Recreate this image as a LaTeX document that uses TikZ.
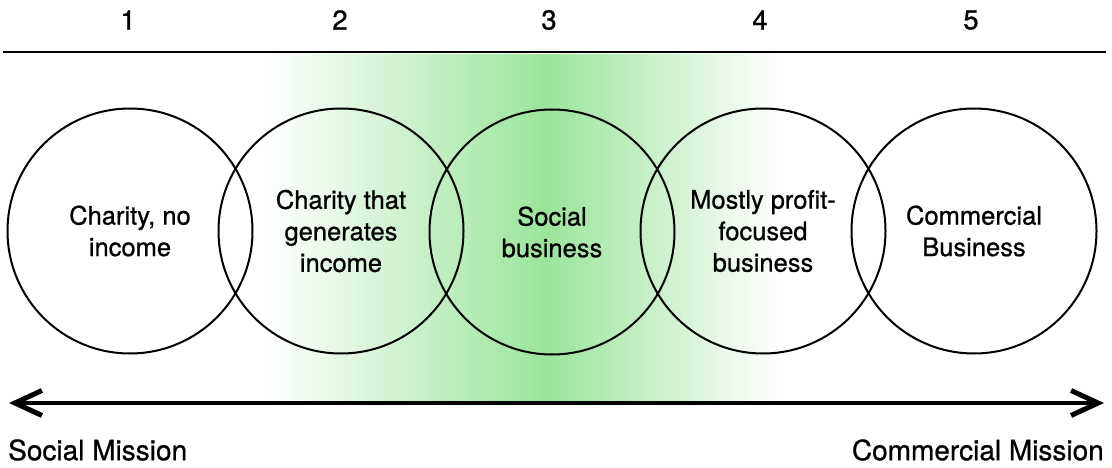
\documentclass[tikz,border=0pt]{standalone}
\usepackage{fontspec}
\setmainfont[FakeBold=0.8]{TeX Gyre Heros}
\usetikzlibrary{arrows.meta}
\definecolor{gcol}{RGB}{155,228,155}
\begin{document}
\begin{tikzpicture}[x=1pt,y=-1pt,
  stage/.style={circle, draw=black, line width=2pt, minimum size=245pt, inner sep=0pt,
    align=center, font=\fontsize{25.5}{31.5}\selectfont},
  num/.style={inner sep=0pt, font=\fontsize{27.5}{30}\selectfont},
  side/.style={inner sep=0pt, font=\fontsize{28}{32}\selectfont},
  barb/.tip={Straight Barb[length=27pt,width=25pt,line width=5pt]}]
\useasboundingbox (0,0) rectangle (1112,468);
% green band
\shade[left color=white, right color=gcol] (266,55) rectangle (546,401);
\shade[left color=gcol, right color=white] (546,55) rectangle (780,401);
% numbers
\node[num] (n1) at (128,20) {1};
\node[num] (n2) at (340,20) {2};
\node[num] (n3) at (549,20) {3};
\node[num] (n4) at (760,20) {4};
\node[num] (n5) at (971,20) {5};
% top rule
\coordinate (la) at (3,52);
\coordinate (lb) at (1106,52);
\draw[line width=2.5pt] (la) -- (lb);
% circles
\node[stage] (c1) at (130,231) {Charity, no\\income};
\node[stage] (c2) at (341,231) {Charity that\\generates\\income};
\node[stage] (c3) at (552,232) {Social\\business};
\node[stage] (c4) at (763,231) {Mostly profit-\\focused\\business};
\node[stage] (c5) at (974,231) {Commercial\\Business};
% arrow
\coordinate (al) at (9,403);
\coordinate (ar) at (1104,403);
\draw[line width=4pt, barb-barb] (al) -- (ar);
% labels
\node[side, anchor=west] (sm) at (8,450) {Social Mission};
\node[side, anchor=east] (cm) at (1104,450) {Commercial Mission};
\end{tikzpicture}
\end{document}
